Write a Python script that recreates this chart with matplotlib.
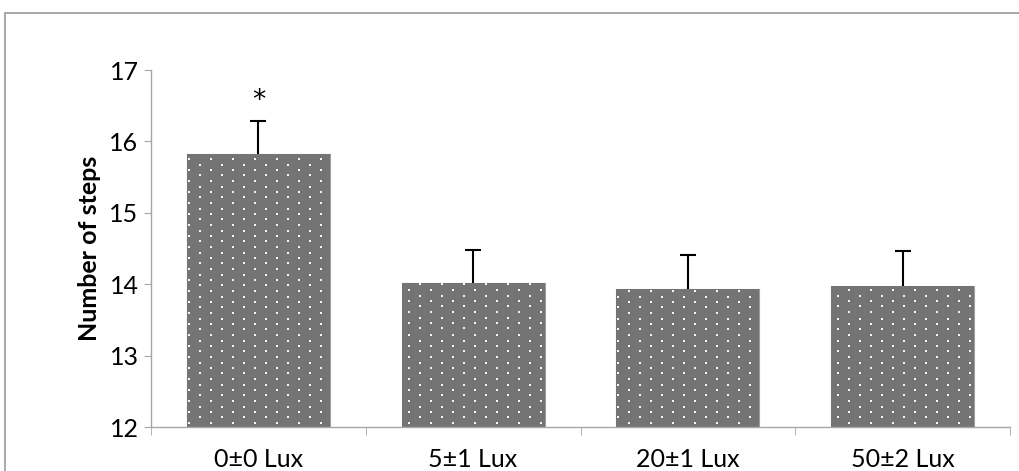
import numpy as np
import matplotlib
matplotlib.use("Agg")
import matplotlib.pyplot as plt
from matplotlib.patches import Rectangle

plt.rcParams['font.family'] = ['Lato', 'DejaVu Sans']

# --- data ---
groups = ["0±0 Lux", "5±1 Lux", "20±1 Lux", "50±2 Lux"]
steps_mean = [15.82, 14.02, 13.93, 13.98]
steps_err = [0.47, 0.46, 0.48, 0.48]
signif = ["*", "", "", ""]

W, H, DPI = 1019, 471, 100
BAR_GRAY = '#747474'
AXIS_GRAY = '#a6a6a6'

fig = plt.figure(figsize=(W / DPI, H / DPI), dpi=DPI)
fig.patch.set_facecolor('white')

# outer chart frame
fig.patches.append(Rectangle((4.5 / W, -0.1), 1.2, 1 - 12.5 / H + 0.1,
                             transform=fig.transFigure, fill=False,
                             edgecolor='#9a9a9a', lw=1.2))

ax = fig.add_axes([151 / W, 44 / H, 859 / W, 357 / H])
x = np.arange(len(groups))
ax.set_xlim(-0.5, len(groups) - 0.5)
ax.set_ylim(12, 17)

bars = ax.bar(x, steps_mean, width=0.665, color=BAR_GRAY,
              edgecolor='#9e9e9e', linewidth=0.8, zorder=2)

# dotted fill: a pixel tile of white dots clipped to each bar
aw, ah = 859, 357
tile = np.empty((ah, aw, 3))
tile[:] = matplotlib.colors.to_rgb(BAR_GRAY)
k = 0
while True:
    yy = int(round(k * 5.5))
    if yy >= ah:
        break
    off = 0 if k % 2 == 0 else 11
    for xx in range(off + 37, aw, 22):
        tile[yy:yy + 2, xx:xx + 2] = matplotlib.colors.to_rgb('#f6f6f6')
    k += 1
tile = tile[::-1]
for b in bars:
    im = ax.imshow(tile, extent=(-0.5, len(groups) - 0.5, 12, 17),
                   origin='lower', aspect='auto', interpolation='nearest',
                   zorder=2.5)
    im.set_clip_path(b)
ax.set_aspect('auto')
ax.set_xlim(-0.5, len(groups) - 0.5)
ax.set_ylim(12, 17)

# upper error bars only
eb = ax.errorbar(x, steps_mean, yerr=[np.zeros(len(x)), steps_err],
                 fmt='none', ecolor='black', elinewidth=1.5, capsize=5.8,
                 capthick=1.5, zorder=3)
eb[1][0].remove()

for xi, m, e, s in zip(x, steps_mean, steps_err, signif):
    if s:
        ax.annotate(s, (xi, m + e), xytext=(0, 5), textcoords='offset points',
                    ha='center', va='bottom', fontsize=19,
                    family='DejaVu Sans')

# axes styling
for side in ['top', 'right']:
    ax.spines[side].set_visible(False)
for side in ['left', 'bottom']:
    ax.spines[side].set_color(AXIS_GRAY)
    ax.spines[side].set_linewidth(1.0)

ax.set_yticks(np.arange(12, 18, 1))
ax.tick_params(axis='y', direction='out', length=5, color=AXIS_GRAY,
               labelsize=18, pad=4)
ax.set_xticks(x)
ax.set_xticklabels(groups)
ax.tick_params(axis='x', which='major', length=0, labelsize=18, pad=15)
ax.set_xticks(np.arange(-0.5, len(groups), 1), minor=True)
ax.tick_params(axis='x', which='minor', direction='out', length=6,
               color=AXIS_GRAY)

ax.set_ylabel("Number of steps", fontsize=18, fontweight='bold', labelpad=6)

fig.savefig("out.png", dpi=DPI)
